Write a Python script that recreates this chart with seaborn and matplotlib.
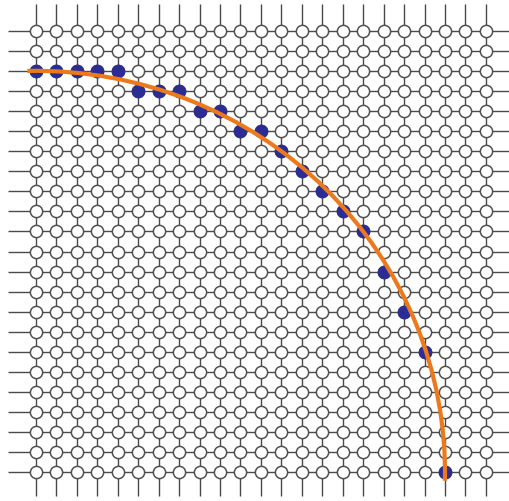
import numpy as np
import pandas as pd
import seaborn as sns
import matplotlib.pyplot as plt
from matplotlib.patches import Arc

sns.set_style("white")

# grid of nodes (columns x rows)
n_cols = 23
n_rows = 23

# pixels picked to approximate the arc (one per column)
dot_x = [0, 1, 2, 3, 4, 5, 6, 7, 8, 9, 10, 11, 12, 13, 14, 15, 16, 17, 18, 19, 20]
dot_y = [20, 20, 20, 20, 20, 19, 19, 19, 18, 18, 17, 17, 16, 15, 14, 13, 12, 10, 8, 6, 0]

# the true quarter circle
arc_center = (0, 0)
arc_radius = 20

cols = np.arange(n_cols)
rows = np.arange(n_rows)
gx, gy = np.meshgrid(cols, rows)
grid = pd.DataFrame({"x": gx.ravel(), "y": gy.ravel()})
dots = pd.DataFrame({"x": dot_x, "y": dot_y})

fig = plt.figure(figsize=(5.09, 5.02), dpi=100)
ax = fig.add_axes([0, 0, 1, 1])

# wires
ax.hlines(rows, -1.37, n_cols + 0.2, color="#4a4a4a", lw=1.0, zorder=1)
ax.vlines(cols, -1.2, n_rows + 0.35, color="#4a4a4a", lw=1.0, zorder=1)

# open nodes
sns.scatterplot(data=grid, x="x", y="y", s=78, color="white",
                edgecolor="#505050", linewidth=1.1, ax=ax, zorder=2, legend=False)

# filled nodes
sns.scatterplot(data=dots, x="x", y="y", s=85, color="#2b2c94",
                edgecolor="#2b2c94", linewidth=0.5, ax=ax, zorder=3, legend=False)

# orange arc
arc = Arc(arc_center, 2 * arc_radius, 2 * arc_radius, theta1=-1.2, theta2=91.2,
          color="#ec7a1c", lw=3, zorder=4)
ax.add_patch(arc)

ax.set_xlim(-1.76, 23.13)
ax.set_ylim(-1.43, 23.58)
ax.set_xlabel("")
ax.set_ylabel("")
ax.axis("off")

plt.savefig("out.png", dpi=100)
